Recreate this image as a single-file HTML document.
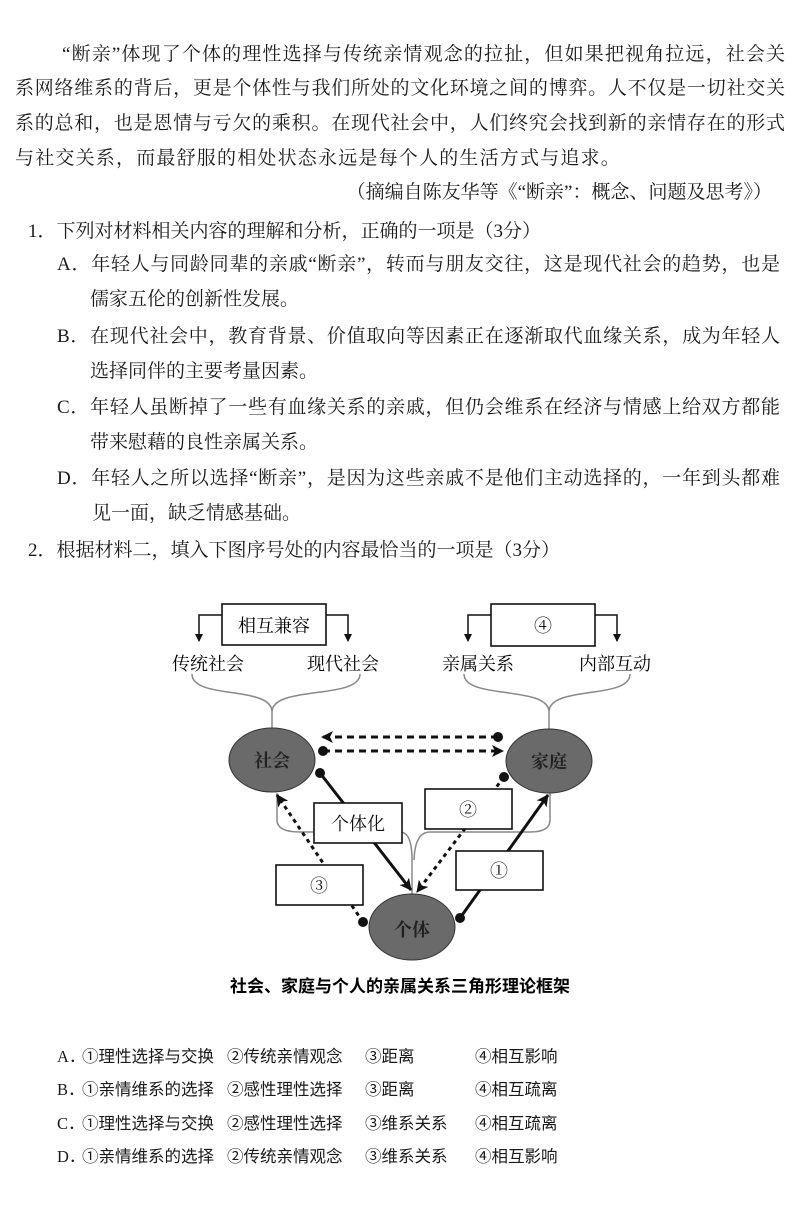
<!DOCTYPE html>
<html><head><meta charset="utf-8"><style>
body{margin:0;background:#fff;}
#p{position:relative;width:800px;height:1214px;overflow:hidden;font-family:"Liberation Serif","Noto Serif CJK SC","Noto Sans CJK SC",serif;color:#1a1a1a;font-size:19px;}
.l{position:absolute;white-space:nowrap;line-height:24px;}
.j{text-align:justify;text-align-last:justify;white-space:normal;height:24px;overflow:hidden;}
.o{position:absolute;font-size:16.5px;line-height:20px;white-space:nowrap;font-family:"Liberation Serif","Noto Sans CJK SC",serif;}
</style></head><body><div id="p">
<div class="l j" style="left:62px;top:43px;width:723px">“断亲”体现了个体的理性选择与传统亲情观念的拉扯，但如果把视角拉远，社会关</div>
<div class="l j" style="left:15px;top:77px;width:770px">系网络维系的背后，更是个体性与我们所处的文化环境之间的博弈。人不仅是一切社交关</div>
<div class="l j" style="left:15px;top:112px;width:770px">系的总和，也是恩情与亏欠的乘积。在现代社会中，人们终究会找到新的亲情存在的形式</div>
<div class="l" style="left:15px;top:147px;letter-spacing:1.2px">与社交关系，而最舒服的相处状态永远是每个人的生活方式与追求。</div>
<div class="l" style="right:28px;top:181px">（摘编自陈友华等《“断亲”：概念、问题及思考》）</div>
<div class="l" style="left:28px;top:220px">1．下列对材料相关内容的理解和分析，正确的一项是（3分）</div>
<div class="l j" style="left:57px;top:253px;width:723px">A．年轻人与同龄同辈的亲戚“断亲”，转而与朋友交往，这是现代社会的趋势，也是</div>
<div class="l" style="left:90px;top:288px">儒家五伦的创新性发展。</div>
<div class="l j" style="left:57px;top:325px;width:723px">B．在现代社会中，教育背景、价值取向等因素正在逐渐取代血缘关系，成为年轻人</div>
<div class="l" style="left:90px;top:360px">选择同伴的主要考量因素。</div>
<div class="l j" style="left:57px;top:396px;width:723px">C．年轻人虽断掉了一些有血缘关系的亲戚，但仍会维系在经济与情感上给双方都能</div>
<div class="l" style="left:90px;top:431px">带来慰藉的良性亲属关系。</div>
<div class="l j" style="left:57px;top:467px;width:723px">D．年轻人之所以选择“断亲”，是因为这些亲戚不是他们主动选择的，一年到头都难</div>
<div class="l" style="left:92px;top:502px">见一面，缺乏情感基础。</div>
<div class="l" style="left:28px;top:539px">2．根据材料二，填入下图序号处的内容最恰当的一项是（3分）</div>

<svg style="position:absolute;left:0;top:0" width="800" height="1214" font-family="'Liberation Serif','Noto Serif CJK SC',serif">
<defs>
<marker id="a" markerWidth="8" markerHeight="8" refX="7" refY="4" orient="auto" markerUnits="userSpaceOnUse"><path d="M0,0 L8,4 L0,8 Z" fill="#111"/></marker>
<marker id="b" markerWidth="12" markerHeight="12" refX="11" refY="6" orient="auto" markerUnits="userSpaceOnUse"><path d="M0,0 L12,6 L0,12 L3,6Z" fill="#111"/></marker>
</defs>
<g fill="none" stroke="#111" stroke-width="1.5">
<path d="M222,615 H199 V641" marker-end="url(#a)"/><path d="M326,615 H348 V641" marker-end="url(#a)"/>
<path d="M491,615 H468 V641" marker-end="url(#a)"/><path d="M595,615 H617 V641" marker-end="url(#a)"/>
</g>
<rect x="222" y="604" width="104" height="41" fill="#fff" stroke="#111" stroke-width="1.6"/>
<rect x="491" y="604" width="104" height="42" fill="#fff" stroke="#111" stroke-width="1.6"/>
<text x="274" y="632" font-size="18" text-anchor="middle">相互兼容</text>
<text x="543" y="632" font-size="18" text-anchor="middle">④</text>
<g font-size="18" text-anchor="middle"><text x="208" y="670">传统社会</text><text x="343" y="670">现代社会</text><text x="478" y="670">亲属关系</text><text x="615" y="670">内部互动</text></g>
<g fill="none" stroke="#888" stroke-width="1.5">
<path d="M192,674 C192,700 272,685 272,712 C272,685 360,700 360,674 M272,712 V730"/>
<path d="M464,674 C464,700 549,685 549,712 C549,685 630,700 630,674 M549,712 V730"/>
<path d="M277,793 V820 Q277,832 300,832 H400 Q412,832 412,860 V896"/>
<path d="M550,793 V820 Q550,832 530,832 H430 Q415,832 414,860"/>
</g>
<g fill="#6a6a6a" stroke="#333" stroke-width="1"><ellipse cx="272" cy="760" rx="43" ry="32"/><ellipse cx="549" cy="761" rx="43" ry="32"/><ellipse cx="412" cy="927" rx="43" ry="33"/></g>
<g font-size="18" font-weight="bold" text-anchor="middle" fill="#222"><text x="272" y="767">社会</text><text x="549" y="768">家庭</text><text x="412" y="936">个体</text></g>
<g stroke="#111" stroke-width="3" fill="none" stroke-dasharray="7,5">
<path d="M498,737 H322" marker-end="url(#b)"/><path d="M323,751 H503" marker-end="url(#b)"/>
</g>
<g stroke="#111" stroke-width="3" fill="none">
<path d="M320,773 L411,890" marker-end="url(#b)"/>
<path d="M460,918 L548,795" marker-end="url(#b)"/>
</g>
<g stroke="#111" stroke-width="3" fill="none" stroke-dasharray="4,4">
<path d="M504,777 L417,892" marker-end="url(#b)"/>
<path d="M363,922 L277,795" marker-end="url(#b)"/>
</g>
<g fill="#111"><circle cx="498" cy="737" r="5"/><circle cx="323" cy="751" r="5"/><circle cx="320" cy="773" r="5"/><circle cx="504" cy="777" r="5"/><circle cx="460" cy="918" r="5"/><circle cx="363" cy="922" r="5"/></g>
<g fill="#fff" stroke="#111" stroke-width="1.6">
<rect x="314" y="803" width="88" height="40"/><rect x="425" y="789" width="87" height="40"/><rect x="456" y="851" width="87" height="39"/><rect x="276" y="865" width="87" height="40"/>
</g>
<g font-size="18" text-anchor="middle" fill="#111"><text x="358" y="830">个体化</text><text x="468" y="816">②</text><text x="499" y="877">①</text><text x="319" y="892">③</text></g>
<text x="400" y="992" font-size="17" font-weight="bold" text-anchor="middle" font-family="'Liberation Sans','Noto Sans CJK SC',sans-serif">社会、家庭与个人的亲属关系三角形理论框架</text>
</svg>

<div class="o" style="left:57px;top:1047px">A．</div><div class="o" style="left:82px;top:1047px">①理性选择与交换</div><div class="o" style="left:227px;top:1047px">②传统亲情观念</div><div class="o" style="left:365px;top:1047px">③距离</div><div class="o" style="left:475px;top:1047px">④相互影响</div>
<div class="o" style="left:57px;top:1080px">B．</div><div class="o" style="left:82px;top:1080px">①亲情维系的选择</div><div class="o" style="left:227px;top:1080px">②感性理性选择</div><div class="o" style="left:365px;top:1080px">③距离</div><div class="o" style="left:475px;top:1080px">④相互疏离</div>
<div class="o" style="left:57px;top:1114px">C．</div><div class="o" style="left:82px;top:1114px">①理性选择与交换</div><div class="o" style="left:227px;top:1114px">②感性理性选择</div><div class="o" style="left:365px;top:1114px">③维系关系</div><div class="o" style="left:475px;top:1114px">④相互疏离</div>
<div class="o" style="left:57px;top:1147px">D．</div><div class="o" style="left:82px;top:1147px">①亲情维系的选择</div><div class="o" style="left:227px;top:1147px">②传统亲情观念</div><div class="o" style="left:365px;top:1147px">③维系关系</div><div class="o" style="left:475px;top:1147px">④相互影响</div>
</div></body></html>
